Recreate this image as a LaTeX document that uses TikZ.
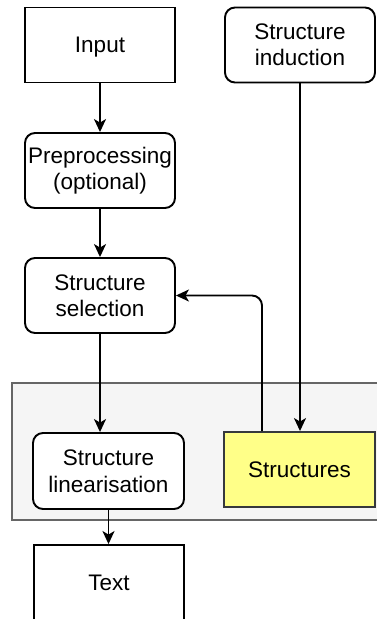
\documentclass[tikz,border=0pt]{standalone}
\usepackage{fontspec}
\setmainfont{Liberation Sans}
\usetikzlibrary{arrows.meta}
\definecolor{panelfill}{HTML}{F5F5F5}
\definecolor{panelline}{HTML}{666666}
\definecolor{storefill}{HTML}{FFFF88}
\definecolor{storeline}{HTML}{36393D}
\tikzset{
  box/.style={draw=black, line width=1.9pt, fill=white, minimum width=150pt,
    minimum height=75pt, align=center, inner sep=0pt,
    font=\fontsize{22.5}{26.5}\selectfont},
  roundbox/.style={box, rounded corners=10pt},
  store/.style={box, fill=storefill, draw=storeline},
  flow/.style={line width=1.9pt, -{Stealth[length=13pt,width=12pt,inset=3.5pt]}},
}
\begin{document}
\begin{tikzpicture}[x=1pt, y=-1pt]
  \useasboundingbox (0,0) rectangle (377,619);
  \clip (0,0) rectangle (377,619);
  \fill[white] (0,0) rectangle (377,619);

  % shaded panel holding the linearisation step and the structure store
  \draw[fill=panelfill, draw=panelline, line width=1.6pt] (12,383) rectangle (420,520);

  \node[box, text depth=0pt] (input)  at (100,45)     {Input};
  \node[roundbox]  (induct) at (300,45)     {Structure\\induction};
  \node[roundbox]  (pre)    at (100,170.5)  {Preprocessing\\(optional)};
  \node[roundbox]  (sel)    at (100,295.5)  {Structure\\selection};
  \node[roundbox, minimum width=151pt, minimum height=76pt]
                   (lin)    at (108.5,471)  {Structure\\linearisation};
  \node[store, minimum width=151pt]
                   (struct) at (299.5,469.5) {Structures};
  \node[box]       (text)   at (109,582.5)  {Text};

  \draw[flow] (input) -- (pre);
  \draw[flow] (pre) -- (sel);
  \draw[flow] (sel.south) -- (sel.south |- lin.north);
  \draw[flow] (lin.south) -- (lin.south |- text.north);
  \draw[flow] (induct.south) -- (induct.south |- struct.north);
  \draw[flow, rounded corners=10pt] ([xshift=-37.5pt]struct.north)
      |- (sel.east);
\end{tikzpicture}
\end{document}
